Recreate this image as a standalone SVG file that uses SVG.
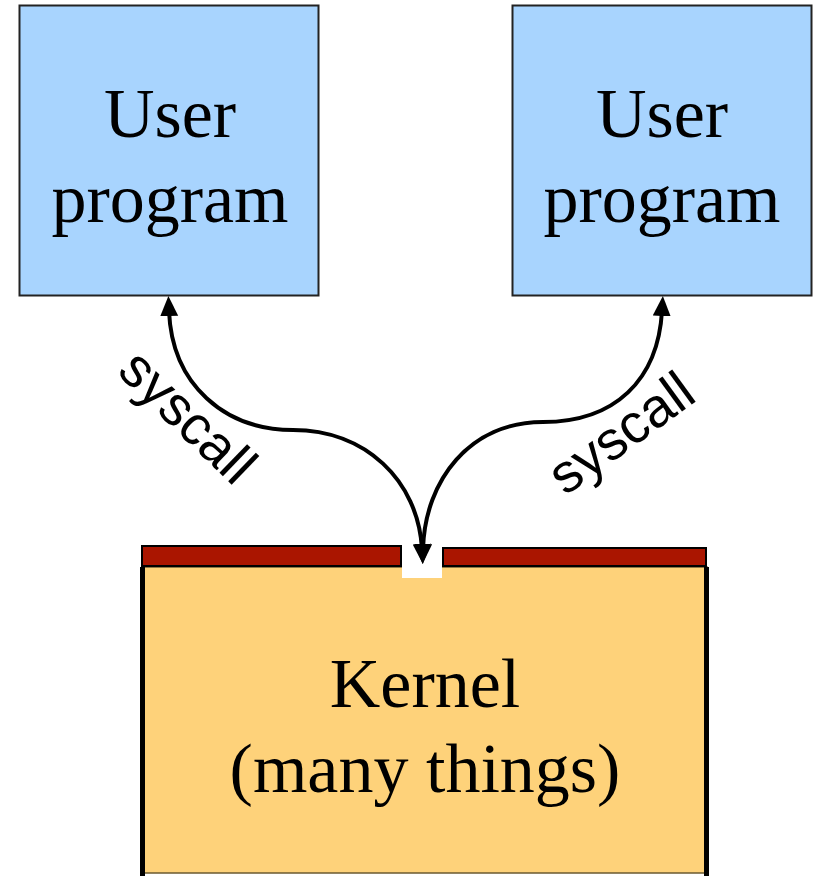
<svg xmlns="http://www.w3.org/2000/svg" width="819" height="876" viewBox="0 0 819 876">
<style>
.user{fill:#a8d4fe;stroke:#222;stroke-width:2}
.big{font-family:"Liberation Serif","Times New Roman",serif;font-size:70px;fill:#000;text-anchor:middle}
.lbl{font-family:"Liberation Sans",Arial,sans-serif;font-size:55px;fill:#000;text-anchor:middle}
.bar{fill:#aa1500;stroke:#000;stroke-width:2}
.conn{fill:none;stroke:#000;stroke-width:4}
</style>
<defs>
<marker id="ah" markerUnits="userSpaceOnUse" markerWidth="22" markerHeight="20" refX="5" refY="9" orient="auto-start-reverse">
<path d="M0,0 L20,9 L0,18 z" fill="#000"/>
</marker>
</defs>
<g id="user1">
<rect class="user" x="19.5" y="5.5" width="299" height="290"/>
<text class="big" x="170" y="137">User</text>
<text class="big" x="170" y="222">program</text>
</g>
<g id="user2">
<rect class="user" x="512.5" y="5.5" width="299" height="290"/>
<text class="big" x="662" y="137">User</text>
<text class="big" x="662" y="222">program</text>
</g>
<g id="kernel">
<rect x="142" y="567" width="565" height="306" fill="#fed27a" stroke="#6b5a30" stroke-width="1.5"/>
<rect x="140" y="567" width="5" height="309" fill="#000"/>
<rect x="704" y="567" width="5" height="309" fill="#000"/>
<rect class="bar" x="142" y="546" width="259" height="20"/>
<rect class="bar" x="443" y="548" width="263" height="18"/>
<rect x="402" y="545" width="40" height="33" fill="#fff"/>
<text class="big" x="425" y="707">Kernel</text>
<text class="big" x="425" y="792">(many things)</text>
</g>
<g id="connectors">
<path class="conn" d="M169,311 C172,385 225,430 293,430 C365,430 418,480 422,549" marker-start="url(#ah)" marker-end="url(#ah)"/>
<path class="conn" d="M662,311 C658,380 615,422 543,422 C470,422 425,480 423,549" marker-start="url(#ah)" marker-end="url(#ah)"/>
<text class="lbl" transform="translate(175,430) rotate(44)">syscall</text>
<text class="lbl" transform="translate(632,448) rotate(-36)">syscall</text>
</g>
</svg>
